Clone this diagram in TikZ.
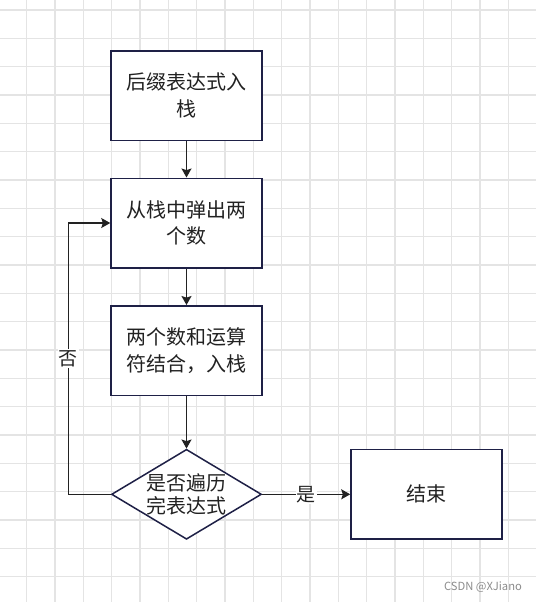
\documentclass[tikz,border=0pt]{standalone}
\usepackage{fontspec}
\setmainfont{Noto Sans CJK SC}
\usetikzlibrary{arrows.meta,shapes.geometric}
\definecolor{boxline}{RGB}{30,32,70}
\definecolor{gridgray}{RGB}{228,228,228}
\definecolor{inkgray}{RGB}{34,34,34}
\definecolor{markgray}{RGB}{140,140,140}

\begin{document}
\begin{tikzpicture}[x=0.5pt,y=-0.5pt,
	gridline/.style={gridgray,line width=0.6pt},
	process/.style={rectangle,draw=boxline,fill=white,line width=0.75pt,minimum width=75.5pt,minimum height=44.75pt,align=center,text=inkgray,font=\fontsize{10}{13.3}\selectfont},
	decision/.style={diamond,draw=boxline,fill=white,line width=0.75pt,inner sep=0pt,minimum width=75pt,minimum height=45pt},
	decisiontext/.style={align=center,text=inkgray,font=\fontsize{10}{11.7}\selectfont},
	flow/.style={-{Stealth[length=4.5pt,width=5pt,inset=0.8pt]},inkgray,line width=0.65pt},
	edgelabel/.style={fill=white,inner sep=0.6pt,text=inkgray,font=\fontsize{9.5}{12}\selectfont},
	watermark/.style={text=markgray,inner sep=0pt,font=\fontsize{5.6}{7}\selectfont}]

	\begin{scope} % Background grid
		\fill[white] (0,0) rectangle (536,602);
		\useasboundingbox (0,0) rectangle (536,602);
		\foreach \i in {1,...,19}
			\draw[gridline] ({-1.67+28.33*\i},0) -- ++(0,602);
		\foreach \j in {0,...,21}
			\draw[gridline] (0,{10+28.33*\j}) -- ++(536,0);
	\end{scope}

	\begin{scope} % Flow steps
		\node[process] (push) at (186.5,95.5) {后缀表达式入\\栈};
		\node[process] (pop) at (186.5,223) {从栈中弹出两\\个数};
		\node[process] (calc) at (186.5,350.5) {两个数和运算\\符结合，入栈};
		\node[decision,label={[decisiontext]center:{是否遍历\\完表达式}}] (check) at (186.5,494.3) {};
		\node[process] (finish) at (426.5,494.3) {结束};
	\end{scope}

	\begin{scope} % Connectors
		\draw[flow] (push) -- (pop);
		\draw[flow] (pop) -- (calc);
		\draw[flow] (calc) -- (check);
		\draw[flow] (check.west) -- ++(-42.4,0) |- node[edgelabel,pos=0.25] {否} (pop.west);
		\draw[flow] (check) -- node[edgelabel] {是} (finish);
	\end{scope}

\node[watermark] (mark) at (483,587) {CSDN @XJiano};
\end{tikzpicture}
\end{document}
